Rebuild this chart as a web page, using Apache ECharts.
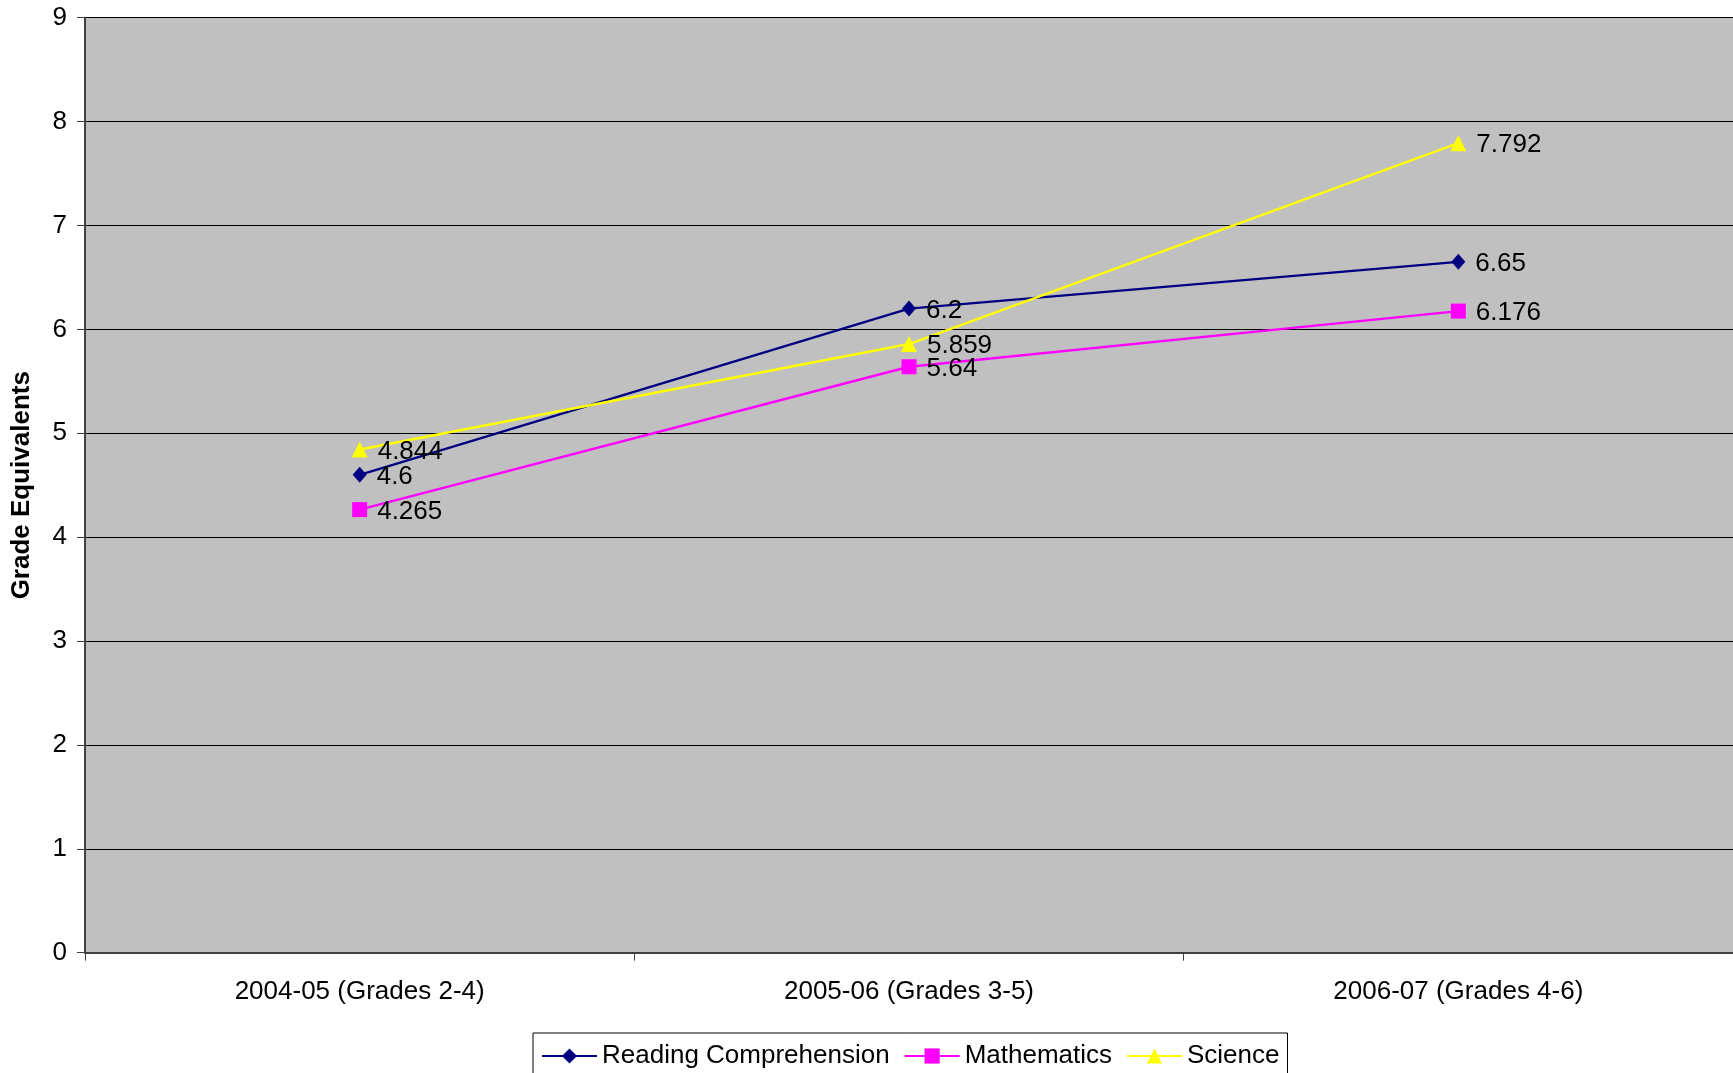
<!DOCTYPE html>
<html>
<head>
<meta charset="utf-8">
<script src="https://cdn.jsdelivr.net/npm/echarts@6/dist/echarts.min.js"></script>
<style>
  html, body { margin: 0; padding: 0; background: #fff; }
  #chart { width: 1733px; height: 1073px; }
</style>
</head>
<body>
<div id="chart"></div>
<script>
// School years with grade spans
const categories = ['2004-05 (Grades 2-4)', '2005-06 (Grades 3-5)', '2006-07 (Grades 4-6)'];

// Mean grade-equivalent scores by subject
const reading = [4.6, 6.2, 6.65];
const mathematics = [4.265, 5.64, 6.176];
const science = [4.844, 5.859, 7.792];

const FONT = 'Arial, "Liberation Sans", sans-serif';
const FS = 26;

const labelStyle = {
  show: true,
  position: 'right',
  distance: 10,
  offset: [0, 2],
  color: '#000',
  fontSize: FS,
  fontFamily: FONT
};

function lineSeries(name, data, color, symbol, size) {
  return {
    name: name,
    type: 'line',
    data: data,
    symbol: symbol,
    symbolSize: size,
    showAllSymbol: true,
    lineStyle: { color: color, width: 2.4 },
    itemStyle: { color: color, borderWidth: 0 },
    label: labelStyle,
    emphasis: { disabled: true },
    animation: false
  };
}

const chart = echarts.init(document.getElementById('chart'), null, { renderer: 'canvas' });

chart.setOption({
  animation: false,
  backgroundColor: '#ffffff',
  textStyle: { fontFamily: FONT },
  grid: {
    left: 85,
    top: 17.7,
    right: 0,
    bottom: 120.3,
    containLabel: false,
    outerBoundsMode: 'none',
    show: true,
    backgroundColor: '#C0C0C0',
    borderWidth: 0
  },
  legend: {
    left: 533,
    top: 1033,
    padding: [10, 8, 6, 8],
    backgroundColor: '#ffffff',
    borderColor: '#000000',
    borderWidth: 1,
    borderRadius: 0,
    itemWidth: 55,
    itemHeight: 19,
    itemGap: 14,
    textStyle: { fontSize: FS, color: '#000', fontFamily: FONT },
    data: ['Reading Comprehension', 'Mathematics', 'Science']
  },
  xAxis: {
    type: 'category',
    data: categories,
    boundaryGap: true,
    axisLine: { show: true, lineStyle: { color: '#404040', width: 2 } },
    axisTick: { show: true, length: 8, alignWithLabel: false, lineStyle: { color: '#404040', width: 1 } },
    axisLabel: { color: '#000', fontSize: FS, fontFamily: FONT, margin: 26 },
    splitLine: { show: false }
  },
  yAxis: {
    type: 'value',
    min: 0,
    max: 9,
    interval: 1,
    name: 'Grade Equivalents',
    nameLocation: 'middle',
    nameRotate: 90,
    nameGap: 50,
    nameTextStyle: { fontSize: FS, fontWeight: 'bold', color: '#000', fontFamily: FONT },
    axisLine: { show: true, lineStyle: { color: '#404040', width: 2 } },
    axisTick: { show: true, length: 8, lineStyle: { color: '#404040', width: 1 } },
    axisLabel: { color: '#000', fontSize: FS, fontFamily: FONT, margin: 18 },
    splitLine: { show: true, lineStyle: { color: '#000000', width: 1 } }
  },
  series: [
    lineSeries('Reading Comprehension', reading, '#000080', 'diamond', [14, 16]),
    lineSeries('Mathematics', mathematics, '#FF00FF', 'rect', 15),
    lineSeries('Science', science, '#FFFF00', 'triangle', [16, 16])
  ]
});
</script>
</body>
</html>
